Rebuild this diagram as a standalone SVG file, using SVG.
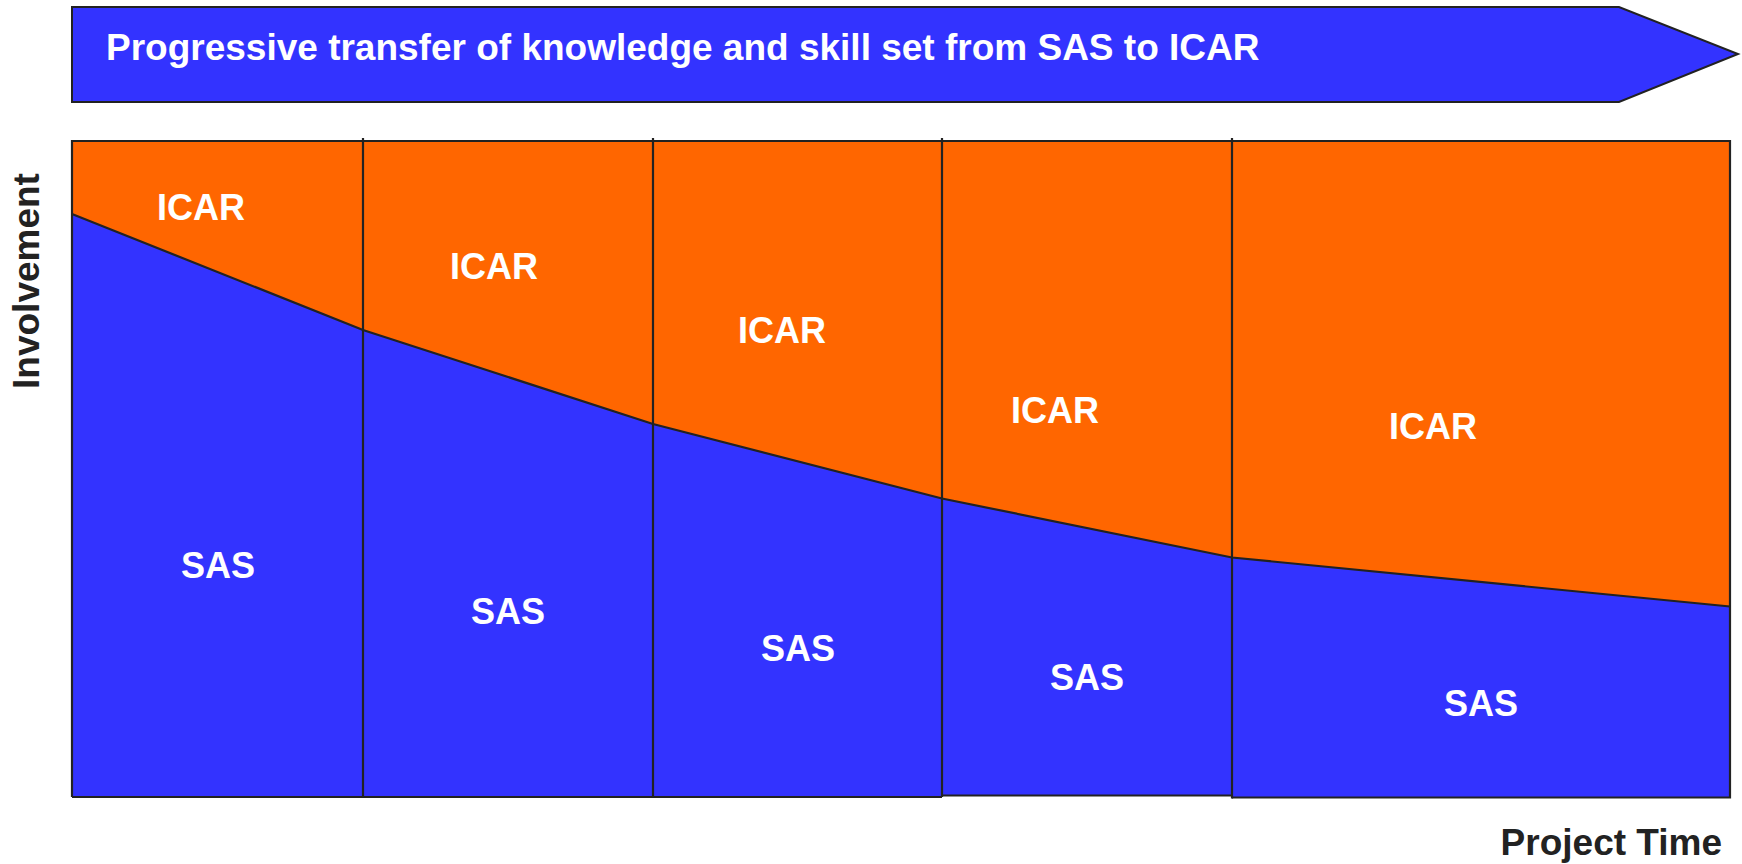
<svg xmlns="http://www.w3.org/2000/svg" width="1742" height="864" viewBox="0 0 1742 864">
<style>
.icar{fill:#FF6600}
.sas{fill:#3333FF}
.lbl{font-family:"Liberation Sans",Arial,sans-serif;font-weight:bold;font-size:36px;fill:#FFFFFF;text-anchor:middle}
.axis{font-family:"Liberation Sans",Arial,sans-serif;font-weight:bold;font-size:37px;fill:#222222}
.ln{fill:none;stroke:#222222;stroke-width:2.2}
</style>
<rect width="1742" height="864" fill="#FFFFFF"/>
<g id="banner">
<polygon points="72,7 1619,7 1738,54 1619,102 72,102" fill="#3333FF" stroke="#222222" stroke-width="2"/>
<text x="106" y="60" font-family="Liberation Sans, Arial, sans-serif" font-weight="bold" font-size="37" fill="#FFFFFF">Progressive transfer of knowledge and skill set from SAS to ICAR</text>
</g>
<g id="phase1">
<polygon class="icar" points="72,141 363,141 363,330 72,214"/>
<polygon class="sas" points="72,214 363,330 363,797 72,797"/>
<text class="lbl" x="201" y="220">ICAR</text>
<text class="lbl" x="218" y="578">SAS</text>
</g>
<g id="phase2">
<polygon class="icar" points="363,141 653,141 653,424 363,330"/>
<polygon class="sas" points="363,330 653,424 653,797 363,797"/>
<text class="lbl" x="494" y="279">ICAR</text>
<text class="lbl" x="508" y="624">SAS</text>
</g>
<g id="phase3">
<polygon class="icar" points="653,141 942,141 942,498.5 653,424"/>
<polygon class="sas" points="653,424 942,498.5 942,797 653,797"/>
<text class="lbl" x="782" y="343">ICAR</text>
<text class="lbl" x="798" y="661">SAS</text>
</g>
<g id="phase4">
<polygon class="icar" points="942,141 1232,141 1232,557.5 942,498.5"/>
<polygon class="sas" points="942,498.5 1232,557.5 1232,795.5 942,795.5"/>
<text class="lbl" x="1055" y="423">ICAR</text>
<text class="lbl" x="1087" y="690">SAS</text>
</g>
<g id="phase5">
<polygon class="icar" points="1232,141 1730,141 1730,606.5 1232,557.5"/>
<polygon class="sas" points="1232,557.5 1730,606.5 1730,797.5 1232,797.5"/>
<text class="lbl" x="1433" y="439">ICAR</text>
<text class="lbl" x="1481" y="716">SAS</text>
</g>
<g id="lines">
<polyline class="ln" points="72,797 72,141 1730,141 1730,797.5 1232,797.5"/>
<polyline class="ln" points="1232,795.5 942,795.5"/>
<polyline class="ln" points="942,797 72,797"/>
<line class="ln" x1="363" y1="138" x2="363" y2="798"/>
<line class="ln" x1="653" y1="138" x2="653" y2="798"/>
<line class="ln" x1="942" y1="138" x2="942" y2="797"/>
<line class="ln" x1="1232" y1="138" x2="1232" y2="798.5"/>
<polyline class="ln" points="72,214 363,330 653,424 942,498.5 1232,557.5 1730,606.5"/>
</g>
<g id="axis-labels">
<text class="axis" x="0" y="0" text-anchor="middle" transform="translate(39,281) rotate(-90)">Involvement</text>
<text class="axis" x="1722" y="855" text-anchor="end">Project Time</text>
</g>
</svg>
